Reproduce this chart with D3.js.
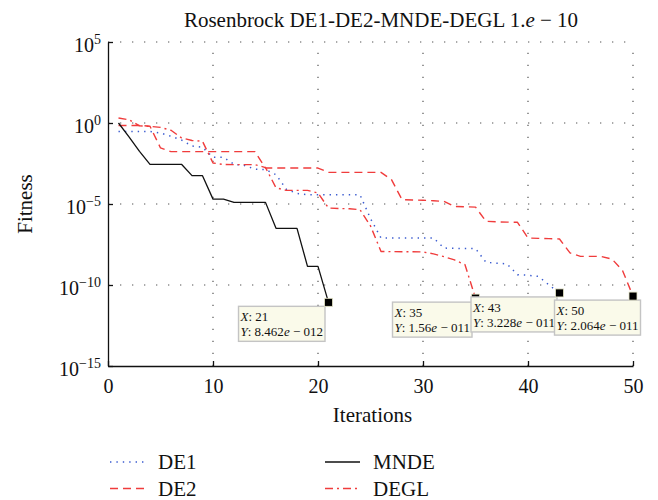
<!DOCTYPE html>
<html>
<head>
<meta charset="utf-8">
<script src="https://cdn.jsdelivr.net/npm/d3@7"></script>
<style>
  body { margin: 0; background: #fff; }
  svg text, svg tspan { font-family: "Liberation Serif", "Times New Roman", serif; fill: #111; }
</style>
</head>
<body>
<svg id="chart" width="658" height="500" font-family="Liberation Serif, serif"></svg>
<script>
// values, as log10(fitness) per iteration (1, 2, 3, ...)
var de1Exp = [-0.52, -0.52, -0.52, -0.52, -0.62, -0.82, -1.05, -1.42, -1.5, -2.12,
              -2.12, -2.55, -2.62, -2.85, -2.88, -3.19, -4.1, -4.35, -4.43, -4.43,
              -4.43, -4.43, -4.43, -4.43, -5.9, -7.1, -7.1, -7.1, -7.1, -7.1,
              -7.1, -7.72, -7.74, -7.75, -7.75, -8.6, -8.65, -8.7, -9.36, -9.4,
              -9.47, -10.0, -10.49];
var de2Exp = [-0.15, -0.15, -0.15, -0.2, -1.54, -1.77, -1.77, -1.77, -1.77, -1.77,
              -1.77, -1.77, -1.77, -1.77, -2.78, -2.78, -2.78, -2.78, -2.78, -2.78,
              -3.05, -3.05, -3.05, -3.05, -3.05, -3.05, -3.5, -4.73, -4.75, -4.77,
              -4.8, -4.84, -5.15, -5.17, -5.19, -6.07, -6.1, -6.12, -6.13, -7.1,
              -7.12, -7.14, -7.16, -8.02, -8.23, -8.23, -8.24, -8.4, -9.1, -10.685];
var mndeExp = [0, -0.85, -1.75, -2.55, -2.55, -2.55, -2.55, -3.25, -3.25, -4.7,
               -4.7, -4.9, -4.9, -4.9, -4.9, -6.5, -6.5, -6.5, -8.85, -8.85, -11.07];
var deglExp = [0.31, 0.2, -0.18, -0.21, -0.27, -0.45, -0.92, -1.08, -1.13, -2.47,
               -2.56, -2.57, -2.57, -2.57, -2.75, -4.0, -4.16, -4.16, -4.16, -4.32,
               -5.25, -5.28, -5.29, -5.35, -6.35, -7.93, -7.94, -7.95, -7.95, -7.96,
               -8.08, -8.25, -8.45, -8.75, -10.81];

var seriesNames = ["DE1", "DE2", "MNDE", "DEGL"];
var xTicks = [0, 10, 20, 30, 40, 50];
var yTickExp = [5, 0, -5, -10, -15];

// data tips: series, shown Y value
var tipSeries = ["MNDE", "DEGL", "DE1", "DE2"];
var tipValues = [8.462e-12, 1.56e-11, 3.228e-11, 2.064e-11];

var svg = d3.select("#chart");
var plotL = 108, plotR = 633, plotT = 42, plotB = 366;
var fs = "21px", tickFs = "20px";

var x = d3.scaleLinear().domain([0, 50]).range([plotL, plotR]);
var y = d3.scaleLog().domain([1e-15, 1e5]).range([plotB, plotT]);

var styles = {
  DE1:  { color: "#3a5bd0", dash: "1.4,5", width: 1.5 },
  DE2:  { color: "#f03c3c", dash: "8,5", width: 1.4 },
  MNDE: { color: "#111111", dash: null, width: 1.3 },
  DEGL: { color: "#f03c3c", dash: "8,4,2,4", width: 1.4 }
};

function toPoints(exps) {
  return exps.map(function(e, i) { return { it: i + 1, v: Math.pow(10, e) }; });
}
var series = {
  DE1: toPoints(de1Exp),
  DE2: toPoints(de2Exp),
  MNDE: toPoints(mndeExp),
  DEGL: toPoints(deglExp)
};

// grid (dotted)
var grid = svg.append("g").attr("class", "grid")
    .attr("stroke", "#555").attr("stroke-width", 1.2).attr("stroke-dasharray", "1.3,10.7");
grid.selectAll("line.v")
    .data(xTicks.slice(1))
    .enter().append("line")
    .attr("x1", function(d) { return x(d); }).attr("x2", function(d) { return x(d); })
    .attr("y1", plotB).attr("y2", plotT);
grid.selectAll("line.h")
    .data(yTickExp.slice(0, -1))
    .enter().append("line")
    .attr("x1", plotL).attr("x2", plotR)
    .attr("y1", function(d) { return y(Math.pow(10, d)); })
    .attr("y2", function(d) { return y(Math.pow(10, d)); });

// axes
var xAxis = svg.append("g")
    .attr("transform", "translate(0," + plotB + ")")
    .call(d3.axisBottom(x).tickValues(xTicks).tickSizeInner(-5).tickSizeOuter(0).tickPadding(13));
var yAxis = svg.append("g")
    .attr("transform", "translate(" + plotL + ",0)")
    .call(d3.axisLeft(y).tickValues(yTickExp.map(function(e) { return Math.pow(10, e); }))
          .tickSizeInner(-5).tickSizeOuter(0).tickPadding(7).tickFormat(""));

[xAxis, yAxis].forEach(function(a) {
  a.attr("font-family", "Liberation Serif, serif").attr("font-size", null);
  a.select(".domain").attr("stroke", "#111").attr("stroke-width", 1.3);
  a.selectAll(".tick line").attr("stroke", "#111").attr("stroke-width", 1.3);
  a.selectAll("text").style("font-size", tickFs).attr("fill", "#111");
});
yAxis.selectAll(".tick text")
    .attr("dy", "0.48em")
    .each(function(d) {
      var t = d3.select(this);
      var e = Math.round(Math.log10(d));
      t.append("tspan").text("10");
      t.append("tspan").attr("dy", -8.5).style("font-size", "14px")
        .text(e < 0 ? "\u2212" + (-e) : String(e));
    });

// lines
var line = d3.line()
    .x(function(d) { return x(d.it); })
    .y(function(d) { return y(d.v); });

svg.append("g").attr("class", "lines")
  .selectAll("path")
  .data(seriesNames)
  .enter().append("path")
    .attr("d", function(d) { return line(series[d]); })
    .attr("fill", "none")
    .attr("stroke", function(d) { return styles[d].color; })
    .attr("stroke-width", function(d) { return styles[d].width; })
    .attr("stroke-dasharray", function(d) { return styles[d].dash; })
    .attr("stroke-linejoin", "round");

// data tips
var tipShift = { MNDE: -3.5, DEGL: -3.5, DE1: -2.5, DE2: 7.5 };
var tips = svg.append("g").attr("class", "tips");
tipSeries.forEach(function(name, i) {
  var pts = series[name];
  var p = pts[pts.length - 1];
  var cx = x(p.it), cy = y(p.v);
  var parts = tipValues[i].toExponential().split("e");
  var ex = parseInt(parts[1], 10);
  var exStr = (ex < 0 ? "\u2212 " : "+ ") + d3.format("03d")(Math.abs(ex));

  var g = tips.append("g");
  var box = g.append("rect");
  var t1 = g.append("text").style("font-size", "13px");
  t1.append("tspan").style("font-style", "italic").text("X");
  t1.append("tspan").text(": " + p.it);
  var t2 = g.append("text").style("font-size", "13px");
  t2.append("tspan").style("font-style", "italic").text("Y");
  t2.append("tspan").text(": " + parts[0]);
  t2.append("tspan").style("font-style", "italic").text("e");
  t2.append("tspan").text(" " + exStr);

  var w = Math.max(t1.node().getComputedTextLength(), t2.node().getComputedTextLength()) + 4;
  var bx = cx + tipShift[name] - w, by = cy + 4;
  box.attr("x", bx).attr("y", by).attr("width", w).attr("height", 35)
     .attr("fill", "#fafaea").attr("stroke", "#c4c4c4").attr("stroke-width", 1.4);
  t1.attr("x", bx + 2).attr("y", by + 15);
  t2.attr("x", bx + 2).attr("y", by + 30);

  g.append("rect")
    .attr("x", cx - 4).attr("y", cy - 4).attr("width", 8).attr("height", 8)
    .attr("fill", "#000").attr("stroke", "#e6e6c8").attr("stroke-width", 0.8);
});

// title and axis labels
var title = svg.append("text")
    .attr("x", 381).attr("y", 26.5).attr("text-anchor", "middle").style("font-size", fs);
title.append("tspan").text("Rosenbrock DE1-DE2-MNDE-DEGL 1.");
title.append("tspan").style("font-style", "italic").text("e");
title.append("tspan").text(" \u2212 10");

svg.append("text")
    .attr("x", (plotL + plotR) / 2 + 2).attr("y", 421.5)
    .attr("text-anchor", "middle").style("font-size", fs)
    .text("Iterations");

svg.append("text")
    .attr("transform", "translate(32," + ((plotT + plotB) / 2) + ") rotate(-90)")
    .attr("text-anchor", "middle").style("font-size", fs)
    .text("Fitness");

// legend, two columns
var legendCols = [
  { names: ["DE1", "DE2"], x: 110 },
  { names: ["MNDE", "DEGL"], x: 325 }
];
var legend = svg.append("g").attr("class", "legend");
legendCols.forEach(function(col) {
  col.names.forEach(function(name, j) {
    var ly = 462 + j * 26.5;
    legend.append("line")
      .attr("x1", col.x).attr("x2", col.x + 35)
      .attr("y1", ly).attr("y2", ly)
      .attr("stroke", styles[name].color)
      .attr("stroke-width", styles[name].width)
      .attr("stroke-dasharray", styles[name].dash);
    legend.append("text")
      .attr("x", col.x + 48).attr("y", ly + 7)
      .style("font-size", fs)
      .text(name);
  });
});
</script>
</body>
</html>
